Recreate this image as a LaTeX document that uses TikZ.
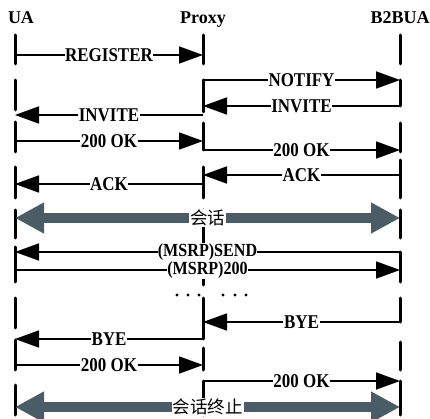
\documentclass[tikz,border=0pt]{standalone}
\usepackage{fontspec}
\setmainfont{Liberation Serif}
\newfontfamily\lblfont[FakeStretch=0.87]{Liberation Serif}
\newfontfamily\cjkfont{Noto Sans CJK SC}
\usetikzlibrary{arrows.meta}
\definecolor{sesscol}{RGB}{74,92,102}
\newcommand\msgline[4]{\draw[msg] (#1 |- 0,#3) -- node[lbl]{#4} (#2 |- 0,#3);}
\newcommand\lbar[3]{\draw[lifebar] (#1 |- 0,#2) -- (#1 |- 0,#3);}
\begin{document}
\begin{tikzpicture}[x=1pt,y=-1pt,
  lifebar/.style={line width=3pt, line cap=round},
  msg/.style={line width=1.8pt, -{Triangle[length=24pt,width=17pt]}},
  lbl/.style={fill=white, inner sep=0.6pt, font=\lblfont\fontsize{19.5}{19.5}\selectfont\bfseries},
  msrplbl/.style={fill=white, inner sep=0.2pt, font=\lblfont\fontsize{18.5}{18.5}\selectfont\bfseries},
  head/.style={anchor=base, inner sep=0pt, font=\fontsize{18}{18}\selectfont\bfseries},
  sessarrow/.style={line width=10pt, draw=sesscol, {Triangle[length=29pt,width=29pt]}-{Triangle[length=29pt,width=29pt]}},
  slbl/.style={fill=white, inner sep=1pt, font=\cjkfont\fontsize{17.5}{17.5}\selectfont}
]
\useasboundingbox[fill=white] (0,0) rectangle (430,419);

% lifeline positions and headers
\coordinate (ua) at (15,0);
\coordinate (px) at (203,0);
\coordinate (bb) at (400,0);
\node[head] (uah) at (21,24) {UA};
\node[head] (pxh) at (203,24) {Proxy};
\node[head] (bbh) at (400,24) {B2BUA};

% UA bars
\lbar{ua}{35}{64}
\lbar{ua}{80}{110}
\lbar{ua}{122}{152}
\lbar{ua}{167}{198}
\lbar{ua}{210}{238}
\lbar{ua}{247}{282}
\lbar{ua}{298}{328}
\lbar{ua}{340}{370}
\lbar{ua}{385}{415}
% Proxy bars
\lbar{px}{35}{64}
\lbar{px}{80}{112}
\lbar{px}{123}{150}
\lbar{px}{167}{198}
\lbar{px}{210}{285}
\lbar{px}{298}{339}
\lbar{px}{348}{370}
\lbar{px}{381}{415}
% B2BUA bars
\lbar{bb}{35}{64}
\lbar{bb}{80}{106}
\lbar{bb}{123}{152}
\lbar{bb}{160}{198}
\lbar{bb}{210}{238}
\lbar{bb}{252}{282}
\lbar{bb}{298}{322}
\lbar{bb}{342}{370}
\lbar{bb}{381}{415}

% messages
\msgline{ua}{px}{55}{REGISTER}
\msgline{px}{bb}{80}{NOTIFY}
\msgline{bb}{px}{106}{INVITE}
\msgline{px}{ua}{115}{INVITE}
\msgline{ua}{px}{141}{200 OK}
\msgline{px}{bb}{150}{200 OK}
\msgline{bb}{px}{175}{ACK}
\msgline{px}{ua}{184}{ACK}

\draw[sessarrow] (ua |- 0,218) -- node[slbl]{会话} (bb |- 0,218);

\draw[msg] (bb |- 0,252) -- node[msrplbl]{(MSRP)SEND} (ua |- 0,252);
\draw[msg] (ua |- 0,270) -- node[msrplbl]{(MSRP)200} (bb |- 0,270);

\foreach \dx in {177,188,199,223,235,246}
  \fill (\dx,295) circle (1.7pt);

\msgline{bb}{px}{322}{BYE}
\msgline{px}{ua}{339}{BYE}
\msgline{ua}{px}{365}{200 OK}
\msgline{px}{bb}{381}{200 OK}

\draw[sessarrow] (ua |- 0,407) -- node[slbl]{会话终止} (bb |- 0,407);
\end{tikzpicture}
\end{document}
